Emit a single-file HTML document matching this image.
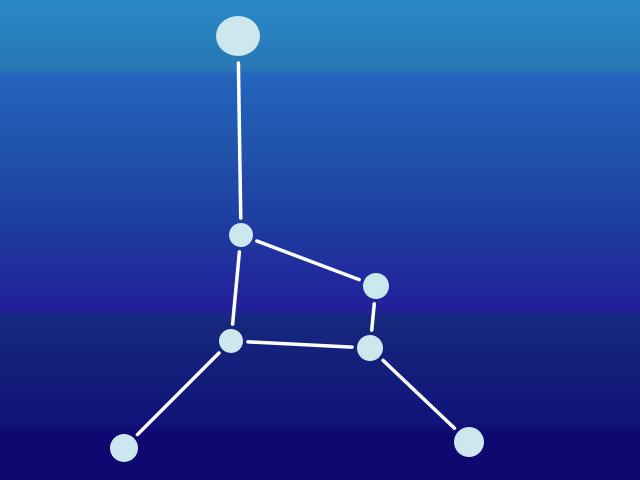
<!DOCTYPE html>
<html><head><meta charset="utf-8"><style>
html,body{margin:0;padding:0;width:640px;height:480px;overflow:hidden}
svg{display:block}
</style></head><body>
<svg id="chart" width="640" height="480" viewBox="0 0 640 480" xmlns="http://www.w3.org/2000/svg">
<defs>
<linearGradient id="sky" x1="0" y1="0" x2="0" y2="1">
<stop offset="0" stop-color="#2a88c8"/>
<stop offset="0.14" stop-color="#2878b4"/>
<stop offset="0.16" stop-color="#2464bc"/>
<stop offset="0.32" stop-color="#2052aa"/>
<stop offset="0.46" stop-color="#1e3ea0"/>
<stop offset="0.64" stop-color="#22209a"/>
<stop offset="0.66" stop-color="#16287e"/>
<stop offset="0.88" stop-color="#101478"/>
<stop offset="0.91" stop-color="#0e0870"/>
<stop offset="1" stop-color="#0e0870"/>
</linearGradient>
</defs>
<rect x="0" y="0" width="640" height="480" fill="url(#sky)"/>
<g id="lines"></g>
<g id="stars"></g>
</svg>
<script>
const starX = [238, 241, 376, 231, 370, 124, 469];
const starY = [36, 235, 286, 341, 348, 448, 442];
const starR = [22, 12, 13, 12, 13, 14, 15];
const edgeFrom = [0, 1, 1, 2, 3, 3, 4];
const edgeTo = [1, 2, 3, 4, 4, 5, 6];
const NS = 'http://www.w3.org/2000/svg';
const lg = document.getElementById('lines');
const sg = document.getElementById('stars');
for (let i = 0; i < edgeFrom.length; i++) {
  const a = edgeFrom[i], b = edgeTo[i];
  const dx = starX[b] - starX[a], dy = starY[b] - starY[a];
  const d = Math.hypot(dx, dy), ux = dx / d, uy = dy / d;
  const ga = starR[a] + 5, gb = starR[b] + 5;
  const l = document.createElementNS(NS, 'line');
  l.setAttribute('x1', starX[a] + ux * ga);
  l.setAttribute('y1', starY[a] + uy * ga);
  l.setAttribute('x2', starX[b] - ux * gb);
  l.setAttribute('y2', starY[b] - uy * gb);
  l.setAttribute('stroke', '#ffffff');
  l.setAttribute('stroke-width', '3.5');
  l.setAttribute('stroke-linecap', 'round');
  
  
  lg.appendChild(l);
}
for (let i = 0; i < starX.length; i++) {
  const c = document.createElementNS(NS, 'ellipse');
  c.setAttribute('cx', starX[i]);
  c.setAttribute('cy', starY[i]);
  c.setAttribute('rx', starR[i]);
  c.setAttribute('ry', i === 0 ? starR[i] - 2 : starR[i]);
  c.setAttribute('fill', '#cce8ee');
  
  
  sg.appendChild(c);
}
</script>
</body></html>
